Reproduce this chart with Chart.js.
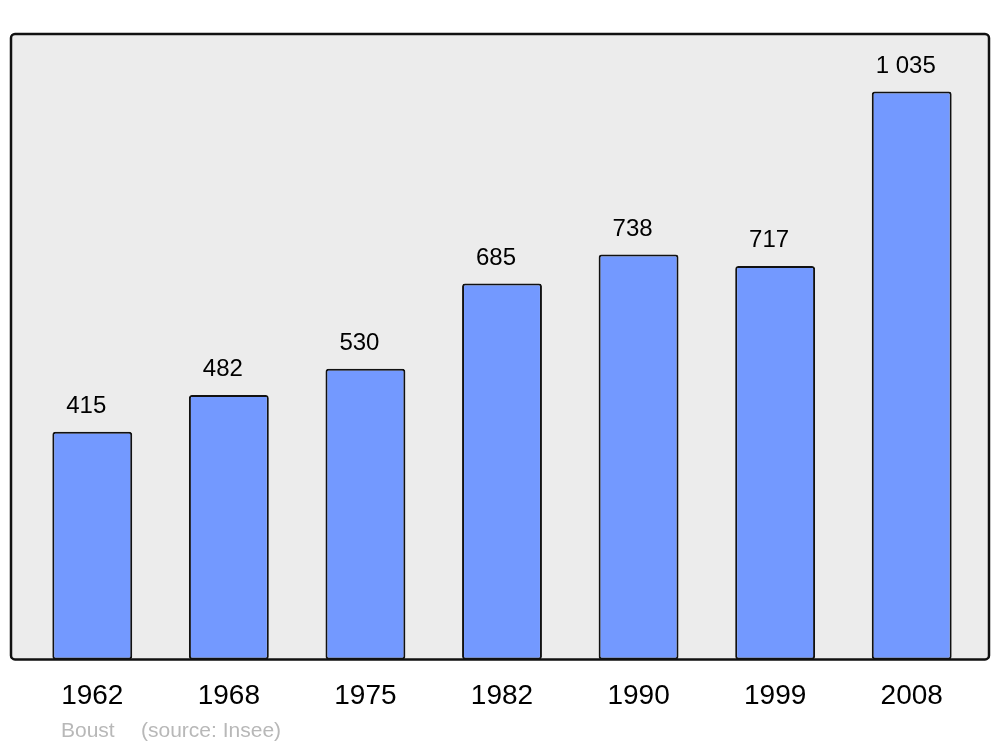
<!DOCTYPE html>
<html>
<head>
<meta charset="utf-8">
<script src="https://cdn.jsdelivr.net/npm/chart.js@4/dist/chart.umd.min.js"></script>
<style>
  html, body { margin: 0; padding: 0; background: #ffffff; }
  #wrap { width: 1000px; height: 747px; }
</style>
</head>
<body>
<div id="wrap"><canvas id="c" width="1000" height="747"></canvas></div>
<script>
const years = ['1962', '1968', '1975', '1982', '1990', '1999', '2008'];
const population = [415, 482, 530, 685, 738, 717, 1035];
const commune = 'Boust';
const source = '(source: Insee)';

function fmt(v) {
  return String(v).replace(/\B(?=(\d{3})+(?!\d))/g, ' ');
}

const framePlugin = {
  id: 'frame',
  beforeDraw(chart) {
    const { ctx, chartArea: a } = chart;
    const x0 = a.left - 13, x1 = a.right + 9, y0 = a.top, y1 = a.bottom;
    ctx.save();
    ctx.beginPath();
    ctx.roundRect(x0, y0, x1 - x0, y1 - y0, 4);
    ctx.fillStyle = '#ececec';
    ctx.fill();
    ctx.restore();
  },
  afterDatasetsDraw(chart) {
    const { ctx, chartArea: a } = chart;
    const x0 = a.left - 13, x1 = a.right + 9, y0 = a.top, y1 = a.bottom;
    ctx.save();
    ctx.beginPath();
    ctx.roundRect(x0, y0, x1 - x0, y1 - y0, 4);
    ctx.lineWidth = 2.5;
    ctx.strokeStyle = '#111111';
    ctx.stroke();
    // value labels
    const meta = chart.getDatasetMeta(0);
    ctx.fillStyle = '#000000';
    ctx.font = '24px "Liberation Sans", Arial, sans-serif';
    ctx.textAlign = 'center';
    ctx.textBaseline = 'alphabetic';
    meta.data.forEach((bar, i) => {
      ctx.fillText(fmt(chart.data.datasets[0].data[i]), bar.x - 6, bar.y - 19);
    });
    // footer
    ctx.fillStyle = '#b8b8b8';
    ctx.font = '21px "Liberation Sans", Arial, sans-serif';
    ctx.textAlign = 'left';
    ctx.fillText(commune, 61, 737);
    ctx.fillText(source, 141, 737);
    ctx.restore();
  }
};

new Chart(document.getElementById('c'), {
  type: 'bar',
  data: {
    labels: years,
    datasets: [{
      data: population,
      backgroundColor: '#7399ff',
      borderColor: '#111111',
      borderWidth: 2,
      borderRadius: 3,
      borderSkipped: false,
      barPercentage: 0.585,
      categoryPercentage: 1.0
    }]
  },
  options: {
    responsive: false,
    animation: false,
    devicePixelRatio: 1,
    layout: { padding: { left: 24, right: 20, top: 34, bottom: 14 } },
    plugins: { legend: { display: false }, tooltip: { enabled: false }, title: { display: false } },
    scales: {
      x: {
        grid: { display: false, drawTicks: false },
        border: { display: false },
        ticks: {
          color: '#000000',
          padding: 20,
          font: { size: 28, family: '"Liberation Sans", Arial, sans-serif' }
        }
      },
      y: {
        display: false,
        min: 0,
        max: 1140
      }
    }
  },
  plugins: [framePlugin]
});
</script>
</body>
</html>
